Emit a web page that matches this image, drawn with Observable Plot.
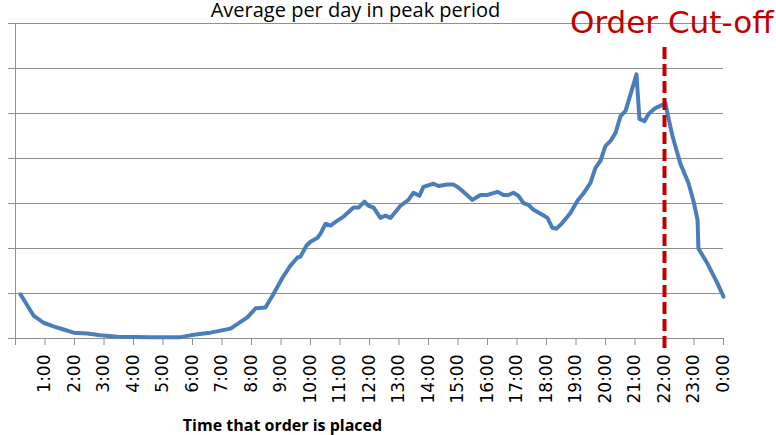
<!DOCTYPE html>
<html>
<head>
<meta charset="utf-8">
<script src="https://cdn.jsdelivr.net/npm/d3@7"></script>
<script src="https://cdn.jsdelivr.net/npm/@observablehq/plot@0.6"></script>
<style>
  html, body { margin: 0; padding: 0; background: #fff; }
  svg { display: block; overflow: visible; }
</style>
</head>
<body>
<div id="chart"></div>
<script>
// Time of day (hours) and average orders (in gridline units)
const hours = [0.17,0.34,0.61,0.95,1.29,1.63,1.97,2.44,2.88,3.46,4.58,5.59,5.93,6.37,6.61,7.29,7.86,8.14,8.47,8.71,9.05,9.32,9.56,9.66,9.86,10.0,10.24,10.34,10.51,10.68,10.85,11.12,11.46,11.63,11.83,11.97,12.14,12.37,12.54,12.71,13.05,13.32,13.49,13.69,13.83,14.17,14.34,14.64,14.85,15.02,15.25,15.49,15.76,16.0,16.34,16.54,16.71,16.88,17.05,17.22,17.39,17.56,17.86,18.03,18.2,18.34,18.54,18.81,19.05,19.25,19.49,19.66,19.83,20.0,20.17,20.34,20.51,20.68,20.85,21.05,21.15,21.32,21.46,21.69,21.93,22.03,22.14,22.27,22.54,22.81,22.98,23.12,23.15,23.46,23.8,24.0];
const orders = [0.98,0.80,0.51,0.35,0.27,0.20,0.13,0.11,0.07,0.04,0.03,0.03,0.07,0.11,0.13,0.22,0.47,0.67,0.69,0.95,1.35,1.62,1.80,1.82,2.06,2.15,2.24,2.33,2.55,2.51,2.59,2.71,2.91,2.91,3.04,2.95,2.91,2.68,2.73,2.68,2.95,3.08,3.24,3.17,3.37,3.44,3.39,3.42,3.42,3.35,3.22,3.08,3.19,3.19,3.26,3.19,3.19,3.24,3.17,3.01,2.97,2.86,2.75,2.68,2.46,2.44,2.57,2.79,3.06,3.22,3.46,3.79,3.95,4.28,4.39,4.57,4.94,5.06,5.43,5.87,4.88,4.83,4.99,5.12,5.19,5.23,4.88,4.50,3.88,3.46,3.06,2.64,2.00,1.66,1.22,0.93];
const tickHours = [0,1,2,3,4,5,6,7,8,9,10,11,12,13,14,15,16,17,18,19,20,21,22,23,24];
const tickLabels = ["","1:00","2:00","3:00","4:00","5:00","6:00","7:00","8:00","9:00","10:00","11:00","12:00","13:00","14:00","15:00","16:00","17:00","18:00","19:00","20:00","21:00","22:00","23:00","0:00"];
const gridValues = [0,1,2,3,4,5,6,7];
const cutoffHour = [22];
const title = "Average per day in peak period";
const xLabel = "Time that order is placed";
const cutoffLabel = "Order Cut-off";

const data = hours.map((h, i) => ({hour: h, value: orders[i]}));

const chart = Plot.plot({
  width: 776,
  height: 435,
  marginLeft: 15,
  marginRight: 53,
  marginTop: 23,
  marginBottom: 97,
  style: {background: "#fff", fontFamily: "DejaVu Sans, sans-serif", color: "#000"},
  x: {domain: [0, 24]},
  y: {domain: [0, 7]},
  marks: [
    Plot.gridY(gridValues, {stroke: "#8e8e8e", strokeOpacity: 1, strokeWidth: 1}),
    Plot.ruleX([0], {stroke: "#8e8e8e", strokeWidth: 1}),
    Plot.axisY(gridValues, {tickSize: 7, stroke: "#8e8e8e", tickFormat: () => "", label: null}),
    Plot.axisX(tickHours, {
      tickSize: 7,
      tickPadding: 9,
      tickRotate: -90,
      stroke: "#8e8e8e",
      fill: "#000",
      fontSize: 17,
      fontFamily: "DejaVu Sans",
      tickFormat: (d) => tickLabels[tickHours.indexOf(d)],
      label: null
    }),
    Plot.line(data, {x: "hour", y: "value", stroke: "#4a7ebb", strokeWidth: 4, strokeLinejoin: "round"}),
    Plot.ruleX(cutoffHour, {stroke: "#c00000", strokeWidth: 4, strokeDasharray: "12,5", insetTop: 24, insetBottom: -10}),
    Plot.text([title], {frameAnchor: "top", dx: -14, dy: -13, fontSize: 20, fontFamily: "Open Sans", fill: "#000", lineAnchor: "middle"}),
    Plot.text([cutoffLabel], {frameAnchor: "top-right", textAnchor: "end", dx: 50, dy: 0, fontSize: 31, fontFamily: "DejaVu Sans", fill: "#c00000", lineAnchor: "middle"}),
    Plot.text([xLabel], {frameAnchor: "bottom", dx: -87, dy: 87, fontSize: 16, fontWeight: "bold", fontFamily: "Open Sans", fill: "#000", lineAnchor: "middle"})
  ]
});
document.getElementById("chart").appendChild(chart);
</script>
</body>
</html>
